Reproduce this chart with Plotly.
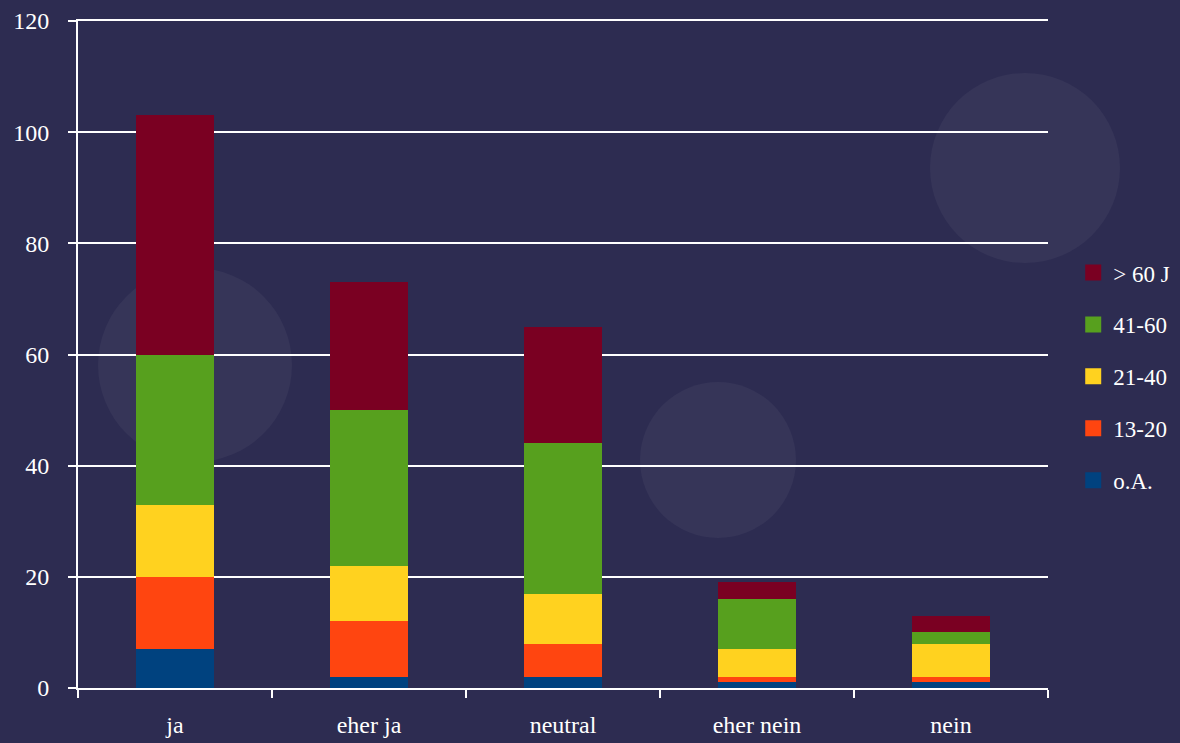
import plotly.graph_objects as go

categories = ["ja", "eher ja", "neutral", "eher nein", "nein"]
series_names = ["o.A.", "13-20", "21-40", "41-60", "> 60 J"]
oa = [7, 2, 2, 1, 1]
v13_20 = [13, 10, 6, 1, 1]
v21_40 = [13, 10, 9, 5, 6]
v41_60 = [27, 28, 27, 9, 2]
v60 = [43, 23, 21, 3, 3]
y_ticks = [0, 20, 40, 60, 80, 100, 120]

colors = ["#00427f", "#ff4510", "#ffd21f", "#57a01e", "#7a0022"]
values = [oa, v13_20, v21_40, v41_60, v60]

font_family = "Liberation Serif, DejaVu Serif, serif"

fig = go.Figure()
n = len(series_names)
for i, (name, vals, col) in enumerate(zip(series_names, values, colors)):
    fig.add_trace(go.Bar(
        x=categories, y=vals, name=name, legendgroup=name, showlegend=False,
        marker=dict(color=col, line=dict(width=0)),
    ))
    # legend entry with larger square symbol
    fig.add_trace(go.Scatter(
        x=[None], y=[None], mode="markers", name=name, legendgroup=name,
        legendrank=n - i,
        marker=dict(symbol="square", size=16, color=col),
    ))

# decorative faint circles (background)
L, R, T, B = 78, 1048, 21, 688
def px_to_paper(px, py):
    return (px - L) / (R - L), (B - py) / (B - T)

circles = [(1025, 168, 95), (195, 365, 97), (718, 460, 78)]
shapes = []
for cx, cy, r in circles:
    x0, y0 = px_to_paper(cx - r, cy + r)
    x1, y1 = px_to_paper(cx + r, cy - r)
    shapes.append(dict(type="circle", xref="paper", yref="paper",
                       x0=x0, y0=y0, x1=x1, y1=y1, layer="below",
                       fillcolor="rgba(255,255,255,0.045)", line=dict(width=0)))

fig.update_layout(
    width=1180, height=743,
    barmode="stack", bargap=0.6,
    paper_bgcolor="#2d2c51", plot_bgcolor="rgba(0,0,0,0)",
    margin=dict(l=78, r=132, t=21, b=55, autoexpand=False),
    font=dict(family=font_family, color="white", size=23),
    shapes=shapes,
    legend=dict(x=1.026, y=0.655, xanchor="left", yanchor="top",
                traceorder="grouped", tracegroupgap=19, itemsizing="trace",
                font=dict(size=23, color="white"), bgcolor="rgba(0,0,0,0)"),
    xaxis=dict(showgrid=False, showline=True, linecolor="white", linewidth=2,
               mirror=True,
               ticks="outside", tickson="boundaries", ticklen=8, tickcolor="white",
               tickwidth=2, tickfont=dict(size=24, color="white"), ticklabelstandoff=14),
    yaxis=dict(range=[0, 120], tickvals=y_ticks, showgrid=True, gridcolor="white",
               gridwidth=2, showline=True, linecolor="white", linewidth=2,
               ticks="outside", ticklen=8, tickcolor="white", tickwidth=2,
               zeroline=False, tickfont=dict(size=24, color="white"), ticklabelstandoff=14),
)

fig.write_html("out.html", config={"displayModeBar": False},
               post_script="document.body.style.margin='0';")
